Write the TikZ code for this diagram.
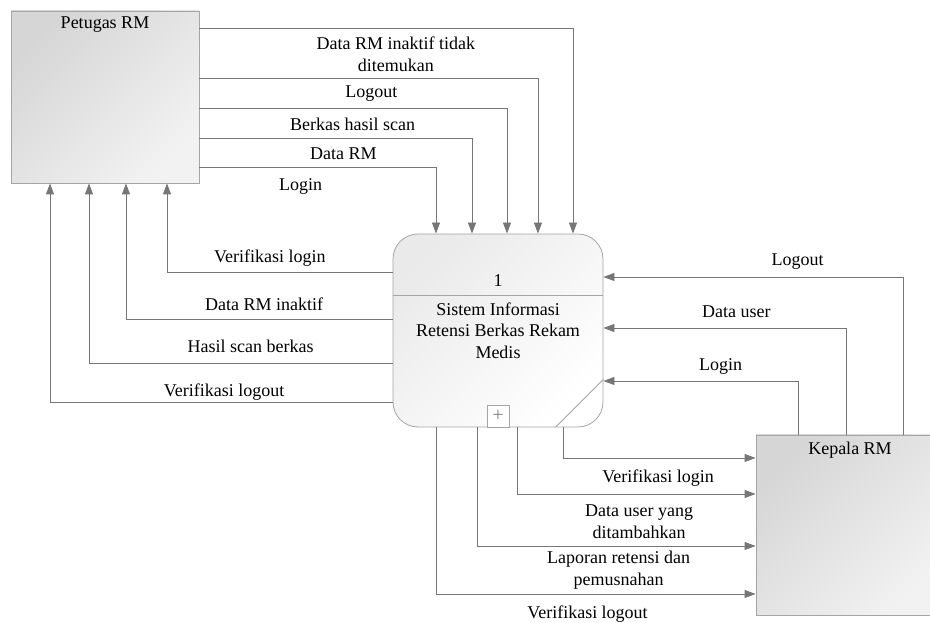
\documentclass[tikz,border=0pt]{standalone}
\usepackage{fontspec}
\setmainfont{Liberation Serif}
\usepackage{tikz}
\usetikzlibrary{arrows.meta, positioning, calc}
\definecolor{linegray}{RGB}{118,118,118}
\definecolor{boxborder}{RGB}{165,165,165}
\definecolor{entitydark}{RGB}{214,214,214}
\definecolor{entitylight}{RGB}{242,242,242}
\definecolor{processfill}{RGB}{246,246,246}

\begin{document}
\begin{tikzpicture}[
    x=1pt, y=1pt,
    entity/.style={draw=boxborder, line width=0.8pt, top color=entitydark, bottom color=entitylight, shading angle=45, inner sep=0pt},
    process/.style={draw=boxborder, line width=0.8pt, top color=processfill!90!gray, bottom color=white, shading angle=45, rounded corners=25pt, minimum width=210pt, minimum height=193pt, inner sep=0pt},
    boxtitle/.style={font=\fontsize{18}{21.5}\selectfont, inner sep=0pt},
    flow/.style={draw=linegray, line width=0.8pt, -{Triangle[length=11pt, width=8pt]}},
    flowlabel/.style={font=\fontsize{18}{22}\selectfont, align=center, inner sep=0pt},
    labelabove/.style={flowlabel, anchor=base, yshift=#1},
    labelbelow/.style={flowlabel, anchor=north, yshift=-#1}
]
    \useasboundingbox (0,0) rectangle (930,623);

    % External entities and process
    \node[entity, minimum width=188pt, minimum height=172pt] (petugas) at (105,526) {};
    \node[boxtitle, below=6pt of petugas.north] (petugastitle) {Petugas RM};
    \node[entity, minimum width=188pt, minimum height=180pt] (kepala) at (850,98) {};
    \node[boxtitle, below=7pt of kepala.north] (kepalatitle) {Kepala RM};

    \node[process] (proc) at (498,292.5) {};
    \node[boxtitle] (procid) at ([yshift=49.5]proc.center) {1};
    \draw[draw=boxborder, line width=0.8pt] ([yshift=35.5]proc.west) -- ([yshift=35.5]proc.east);
    \node[boxtitle, align=center] (proctext) at (proc.center) {Sistem Informasi\\Retensi Berkas Rekam\\Medis};
    \node[draw=boxborder, fill=white, minimum size=22pt, inner sep=0pt, text=gray, font=\fontsize{20}{20}\selectfont, anchor=south] (plus) at (proc.south) {+};
    \draw[draw=boxborder, line width=0.8pt] ([xshift=-48]proc.south east) -- ([yshift=48]proc.south east);

    % Petugas RM -> sistem
    \draw[flow] ([yshift=69]petugas.east) -| ([xshift=75]proc.north) node[labelbelow=8, pos=0.263] (f1) {Data RM inaktif tidak\\ditemukan};
    \draw[flow] ([yshift=19]petugas.east) -| ([xshift=40]proc.north) node[labelbelow=7, pos=0.254] (f2) {Logout};
    \draw[flow] ([yshift=-11]petugas.east) -| ([xshift=9]proc.north) node[labelbelow=10, pos=0.249] (f3) {Berkas hasil scan};
    \draw[flow] ([yshift=-41]petugas.east) -| ([xshift=-26]proc.north) node[labelbelow=9, pos=0.264] (f4) {Data RM};
    \draw[flow] ([yshift=-70]petugas.east) -| ([xshift=-62]proc.north) node[labelbelow=11, pos=0.214] (f5) {Login};

    % sistem -> Petugas RM
    \draw[flow] ([yshift=58.5]proc.west) -| ([xshift=62]petugas.south) node[labelabove=9, pos=0.272] (f6) {Verifikasi login};
    \draw[flow] ([yshift=11.5]proc.west) -| ([xshift=21]petugas.south) node[labelabove=8, pos=0.241] (f7) {Data RM inaktif};
    \draw[flow] ([yshift=-32.5]proc.west) -| ([xshift=-16]petugas.south) node[labelabove=10, pos=0.234] (f8) {Hasil scan berkas};
    \draw[flow] ([yshift=-71.5]proc.west) -| ([xshift=-55]petugas.south) node[labelabove=5, pos=0.246] (f9) {Verifikasi logout};

    % Kepala RM -> sistem
    \draw[flow] ([xshift=53]kepala.north) |- ([yshift=53.5]proc.east) node[labelabove=11, pos=0.676] (f10) {Logout};
    \draw[flow] ([xshift=-4]kepala.north) |- ([yshift=2.5]proc.east) node[labelabove=10, pos=0.726] (f11) {Data user};
    \draw[flow] ([xshift=-52]kepala.north) |- ([yshift=-50.5]proc.east) node[labelabove=10, pos=0.699] (f12) {Login};

    % sistem -> Kepala RM
    \draw[flow] ([xshift=65]proc.south) |- ([yshift=67]kepala.west) node[labelbelow=11, pos=0.747] (f13) {Verifikasi login};
    \draw[flow] ([xshift=19]proc.south) |- ([yshift=31]kepala.west) node[labelbelow=10, pos=0.756] (f14) {Data user yang\\ditambahkan};
    \draw[flow] ([xshift=-21]proc.south) |- ([yshift=-21]kepala.west) node[labelbelow=5, pos=0.754] (f15) {Laporan retensi dan\\pemusnahan};
    \draw[flow] ([xshift=-62]proc.south) |- ([yshift=-69]kepala.west) node[labelbelow=11, pos=0.737] (f16) {Verifikasi logout};
\end{tikzpicture}
\end{document}
